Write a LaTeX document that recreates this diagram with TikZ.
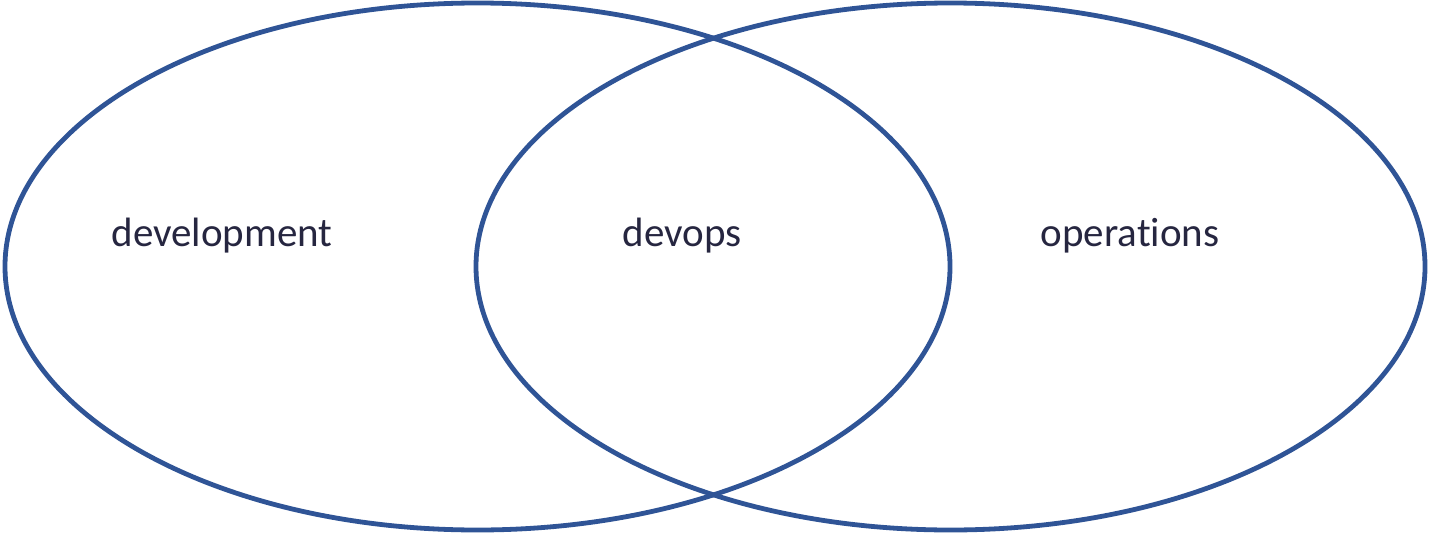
\documentclass[tikz,border=0pt]{standalone}
\usepackage{fontspec}
\setmainfont{Carlito}[Ligatures={NoCommon}]
\definecolor{ringblue}{HTML}{2F5496}
\definecolor{labelink}{HTML}{262640}
\begin{document}
\begin{tikzpicture}[x=1pt,y=-1pt,
  ring/.style={draw=ringblue,line width=4.8pt},
  lbl/.style={text=labelink,font=\fontsize{41}{48}\selectfont,anchor=base,inner sep=0pt}]
\useasboundingbox (0,0) rectangle (1431,535);
\draw[ring] (477.5,266.5) ellipse [x radius=472.5, y radius=263.5];
\draw[ring] (950.5,266.5) ellipse [x radius=474.5, y radius=263.5];
\node[lbl] (dev) at (222,246) {development};
\node[lbl] (devops) at (682,246) {devops};
\node[lbl] (ops) at (1130,246) {operations};
\end{tikzpicture}
\end{document}
